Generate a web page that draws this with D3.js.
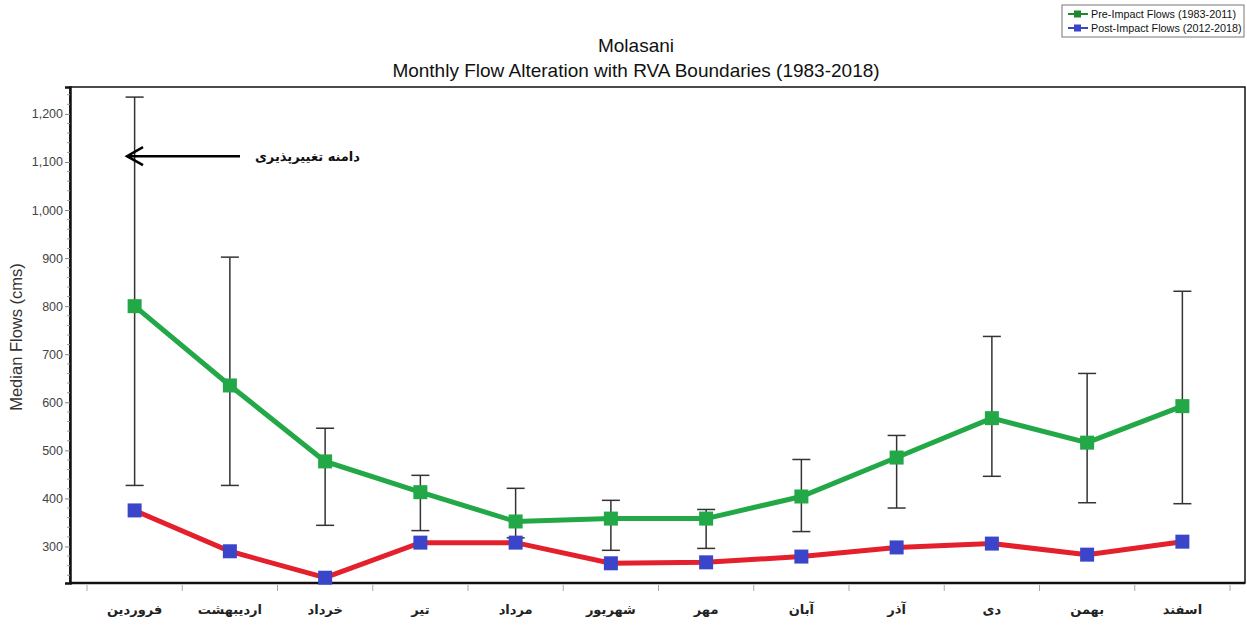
<!DOCTYPE html>
<html><head><meta charset="utf-8">
<script src="https://cdn.jsdelivr.net/npm/d3@7"></script>
<style>body{margin:0;background:#fff;}svg{display:block;}</style>
</head><body>
<svg id="c" width="1247" height="628"></svg>
<script>
const months = ["فروردین","اردیبهشت","خرداد","تیر","مرداد","شهریور","مهر","آبان","آذر","دی","بهمن","اسفند"];
const preImpact = [800, 635, 477, 413, 352, 358, 358, 404, 485, 567, 516, 592];
const postImpact = [375, 290, 235, 308, 308, 265, 267, 279, 298, 306, 283, 310];
const rvaUpper = [1235, 902, 546, 448, 421, 396, 377, 481, 531, 737, 660, 831];
const rvaLower = [427, 427, 344, 333, 318, 292, 296, 331, 380, 446, 391, 389];
const yTicks = [300, 400, 500, 600, 700, 800, 900, 1000, 1100, 1200];
const seriesNames = ["Pre-Impact Flows (1983-2011)", "Post-Impact Flows (2012-2018)"];

const svg = d3.select("#c");
const frame = {l: 70, r: 1245, t: 87, b: 583};
const x = d3.scaleBand().domain(months).range([87, 1230]).padding(0);
const y = d3.scaleLinear().domain([224, 1256]).range([frame.b, frame.t]);
const cx = m => x(m) + x.bandwidth() / 2;

// frame
svg.append("rect").attr("x", frame.l).attr("y", frame.t).attr("width", frame.r - frame.l).attr("height", frame.b - frame.t)
  .attr("fill", "none").attr("stroke", "#111").attr("stroke-width", 1.5);

// y axis
const yAxis = d3.axisLeft(y).tickValues(yTicks).tickSize(5).tickFormat(d3.format(","));
const ga = svg.append("g").attr("transform", `translate(${frame.l},0)`).call(yAxis);
ga.select(".domain").attr("stroke", "#111").attr("stroke-width", 2.5);
ga.selectAll(".tick line").attr("stroke", "#888");
ga.selectAll(".tick text").attr("font-family", "Arial, 'Liberation Sans', sans-serif").attr("font-size", 12.5).attr("fill", "#444").attr("x", -7);
// minor ticks
const minor = d3.range(240, 1256, 20).filter(v => v % 100 !== 0);
svg.append("g").selectAll("line").data(minor).join("line")
  .attr("x1", frame.l - 3).attr("x2", frame.l).attr("y1", d => y(d)).attr("y2", d => y(d)).attr("stroke", "#999").attr("stroke-width", 1);

// x axis
const xAxis = d3.axisBottom(x).tickSize(0).tickPadding(22);
const gx = svg.append("g").attr("transform", `translate(0,${frame.b})`).call(xAxis);
gx.select(".domain").remove();
gx.selectAll(".tick text").attr("font-family", "'DejaVu Sans', sans-serif").attr("font-weight", "bold").attr("font-size", 13).attr("fill", "#222");
svg.append("line").attr("x1", frame.l).attr("x2", frame.r).attr("y1", frame.b).attr("y2", frame.b).attr("stroke", "#111").attr("stroke-width", 2.5);
const bounds = months.map(m => x(m)).concat([x.range()[1]]);
svg.append("g").selectAll("line").data(bounds).join("line")
  .attr("x1", d => d).attr("x2", d => d).attr("y1", frame.b + 2).attr("y2", frame.b + 8).attr("stroke", "#aaa").attr("stroke-width", 1);

// y label
svg.append("text").attr("transform", `translate(22,337) rotate(-90)`).attr("text-anchor", "middle")
  .attr("font-family", "Arial, 'Liberation Sans', sans-serif").attr("font-size", 16.5).attr("fill", "#333").text("Median Flows (cms)");

// title
svg.append("text").attr("x", 636).attr("y", 52).attr("text-anchor", "middle").attr("font-family", "Arial, 'Liberation Sans', sans-serif").attr("font-size", 19).attr("fill", "#111").text("Molasani");
svg.append("text").attr("x", 636).attr("y", 77).attr("text-anchor", "middle").attr("font-family", "Arial, 'Liberation Sans', sans-serif").attr("font-size", 19).attr("fill", "#111").text("Monthly Flow Alteration with RVA Boundaries (1983-2018)");

// error bars
const eb = svg.append("g").attr("stroke", "#333").attr("stroke-width", 1.5);
months.forEach((m, i) => {
  eb.append("line").attr("x1", cx(m)).attr("x2", cx(m)).attr("y1", y(rvaUpper[i])).attr("y2", y(rvaLower[i]));
  eb.append("line").attr("x1", cx(m) - 9).attr("x2", cx(m) + 9).attr("y1", y(rvaUpper[i])).attr("y2", y(rvaUpper[i]));
  eb.append("line").attr("x1", cx(m) - 9).attr("x2", cx(m) + 9).attr("y1", y(rvaLower[i])).attr("y2", y(rvaLower[i]));
});

// lines
const line = d3.line().x((d, i) => cx(months[i])).y(d => y(d));
svg.append("path").datum(preImpact).attr("d", line).attr("fill", "none").attr("stroke", "#22a846").attr("stroke-width", 5);
svg.append("path").datum(postImpact).attr("d", line).attr("fill", "none").attr("stroke", "#e3202c").attr("stroke-width", 5);
const ms = 14;
svg.append("g").selectAll("rect").data(preImpact).join("rect")
  .attr("x", (d, i) => cx(months[i]) - ms / 2).attr("y", d => y(d) - ms / 2).attr("width", ms).attr("height", ms).attr("fill", "#22a846");
svg.append("g").selectAll("rect").data(postImpact).join("rect")
  .attr("x", (d, i) => cx(months[i]) - ms / 2).attr("y", d => y(d) - ms / 2).attr("width", ms).attr("height", ms).attr("fill", "#3b45c9");

// annotation arrow
const ay = y(1112);
svg.append("line").attr("x1", 240).attr("x2", 127).attr("y1", ay).attr("y2", ay).attr("stroke", "#000").attr("stroke-width", 2.5);
svg.append("path").attr("d", `M${143},${ay - 9} L${127},${ay} L${143},${ay + 9}`).attr("fill", "none").attr("stroke", "#000").attr("stroke-width", 2.5);
svg.append("text").attr("x", 360).attr("y", ay + 5).attr("text-anchor", "end")
  .attr("font-family", "'DejaVu Sans', sans-serif").attr("font-weight", "bold").attr("font-size", 13).attr("fill", "#111").text("دامنه تغییرپذیری");

// legend
const lg = svg.append("g");
lg.append("rect").attr("x", 1062).attr("y", 5).attr("width", 182).attr("height", 32).attr("fill", "#fff").attr("stroke", "#777").attr("stroke-width", 1);
const lcol = ["#1e8a2e", "#3b45c9"];
seriesNames.forEach((s, i) => {
  const yy = 14 + i * 14;
  lg.append("line").attr("x1", 1068).attr("x2", 1088).attr("y1", yy).attr("y2", yy).attr("stroke", lcol[i]).attr("stroke-width", 2);
  lg.append("rect").attr("x", 1074).attr("y", yy - 3.5).attr("width", 7).attr("height", 7).attr("fill", lcol[i]);
  lg.append("text").attr("x", 1091).attr("y", yy + 3.5).attr("font-family", "Arial, 'Liberation Sans', sans-serif").attr("font-size", 10.8).attr("fill", "#111").text(s);
});
</script>
</body></html>
